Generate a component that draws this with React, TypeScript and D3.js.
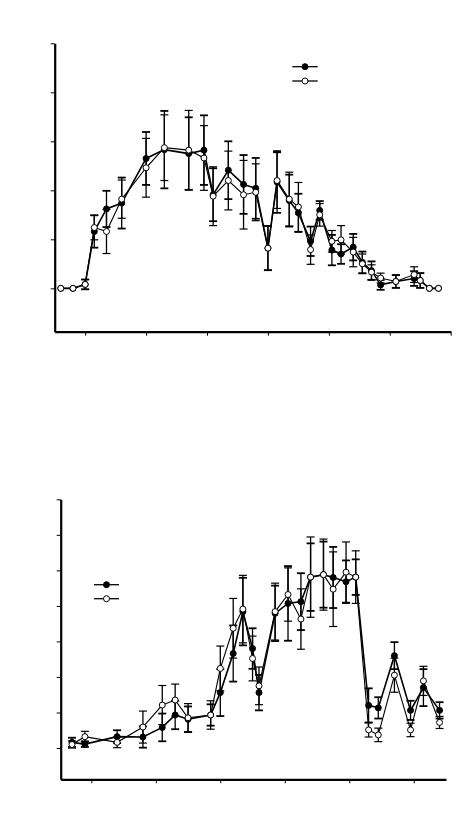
import React, { useEffect, useRef } from "react";
import * as d3 from "d3";

// ---------- Top panel data ----------
const topX = [6, 8, 10, 11.5, 13.5, 16, 20, 23, 27, 29.5, 31, 33.5, 36, 38, 40, 41.5, 43.5, 45, 47, 48.5, 50.5, 52, 54, 55.5, 57, 58.5, 61, 64, 65, 66.5, 68];
const topFilled = [0, 0, 0.08, 1.16, 1.62, 1.74, 2.65, 2.83, 2.75, 2.82, 1.91, 2.41, 2.12, 2.04, 0.82, 2.17, 1.79, 1.54, 0.96, 1.59, 0.78, 0.7, 0.84, 0.53, 0.36, 0.07, 0.14, 0.2, 0.16, 0, 0];
const topFilledErr = [0, 0, 0.1, 0.33, 0.37, 0.52, 0.54, 0.79, 0.74, 0.71, 0.54, 0.59, 0.6, 0.62, 0.45, 0.63, 0.53, 0.39, 0.3, 0.19, 0.31, 0.2, 0.27, 0.22, 0.19, 0.1, 0.13, 0.15, 0.15, 0, 0];
const topOpen = [0, 0, 0.08, 1.24, 1.16, 1.82, 2.46, 2.87, 2.82, 2.66, 1.88, 2.2, 1.91, 1.96, 0.82, 2.2, 1.82, 1.66, 0.79, 1.5, 0.96, 0.99, 0.74, 0.5, 0.33, 0.21, 0.14, 0.28, 0.16, 0, 0];
const topOpenErr = [0, 0, 0.1, 0.25, 0.45, 0.39, 0.6, 0.67, 0.81, 0.66, 0.6, 0.6, 0.7, 0.58, 0.45, 0.57, 0.55, 0.5, 0.3, 0.23, 0.22, 0.29, 0.3, 0.2, 0.15, 0.1, 0.13, 0.16, 0.15, 0, 0];
const topXTicks = [10, 20, 30, 40, 50, 60, 70];
const topYTicks = [0, 1, 2, 3, 4, 5];

// ---------- Bottom panel data ----------
const botX = [7, 9, 14, 18, 21, 23, 25, 28.5, 30, 32, 33.5, 35, 36, 38.5, 40.5, 42.5, 44, 46, 47.5, 49.5, 51, 53, 54.5, 57, 59.5, 61.5, 64];
const botFilled = [0.16, 0.11, 0.32, 0.31, 0.58, 0.93, 0.81, 0.93, 1.56, 2.66, 3.84, 2.8, 1.56, 3.79, 4.07, 4.12, 4.81, 4.88, 4.8, 4.68, 4.81, 1.2, 1.13, 2.6, 1.06, 1.7, 1.06];
const botFilledErr = [0.13, 0.08, 0.18, 0.3, 0.39, 0.4, 0.36, 0.3, 0.66, 0.79, 0.95, 0.57, 0.5, 0.78, 1.05, 0.8, 0.95, 0.93, 0.86, 0.6, 0.5, 0.48, 0.3, 0.38, 0.27, 0.52, 0.23];
const botOpen = [0.1, 0.32, 0.16, 0.59, 1.21, 1.35, 0.85, 0.93, 2.24, 3.37, 3.91, 2.52, 1.75, 3.84, 4.32, 3.63, 4.81, 4.88, 4.47, 4.95, 4.81, 0.51, 0.37, 2.05, 0.51, 1.89, 0.72];
const botOpenErr = [0.1, 0.15, 0.15, 0.45, 0.55, 0.45, 0.4, 0.4, 0.63, 0.84, 0.95, 0.63, 0.53, 0.8, 0.75, 0.85, 1.13, 1.0, 1.05, 0.85, 0.74, 0.2, 0.19, 0.48, 0.19, 0.41, 0.17];
const botXTicks = [10, 20, 30, 40, 50, 60];
const botYTicks = [0, 1, 2, 3, 4, 5, 6, 7];

type PanelProps = {
  xs: number[];
  filled: number[];
  filledErr: number[];
  open: number[];
  openErr: number[];
  xDomain: [number, number];
  yDomain: [number, number];
  left: number;
  right: number;
  top: number;
  bottom: number;
  xTicks: number[];
  yTicks: number[];
  legend: { x1: number; x2: number; y1: number; y2: number };
};

function Panel(p: PanelProps) {
  const xAxisRef = useRef<SVGGElement>(null);
  const yAxisRef = useRef<SVGGElement>(null);
  const x = d3.scaleLinear().domain(p.xDomain).range([p.left, p.right]);
  const y = d3.scaleLinear().domain(p.yDomain).range([p.bottom, p.top]);

  useEffect(() => {
    if (xAxisRef.current) {
      const g = d3.select(xAxisRef.current);
      g.call(d3.axisBottom(x).tickValues(p.xTicks).tickSize(4).tickSizeOuter(0).tickFormat(() => ""));
      g.select(".domain").attr("stroke-width", 2.2).attr("stroke", "#000");
      g.selectAll(".tick line").attr("stroke-width", 1).attr("stroke", "#000");
    }
    if (yAxisRef.current) {
      const g = d3.select(yAxisRef.current);
      g.call(d3.axisLeft(y).tickValues(p.yTicks).tickSize(4).tickSizeOuter(0).tickFormat(() => ""));
      g.select(".domain").attr("stroke-width", 2.2).attr("stroke", "#000");
      g.selectAll(".tick line").attr("stroke-width", 1).attr("stroke", "#000");
    }
  });

  const line = d3
    .line<[number, number]>()
    .x((d) => x(d[0]))
    .y((d) => y(d[1]));
  const filledPts: [number, number][] = p.xs.map((v, i) => [v, p.filled[i]]);
  const openPts: [number, number][] = p.xs.map((v, i) => [v, p.open[i]]);
  const cap = 4;
  const r = 3;

  const errBars = (vals: number[], errs: number[], capW: number, key: string) =>
    p.xs.map((v, i) => {
      if (!errs[i]) return null;
      const cx = x(v);
      const y1 = y(vals[i] + errs[i]);
      const y2 = y(vals[i] - errs[i]);
      return (
        <g key={key + i}>
          <line x1={cx} x2={cx} y1={y1} y2={y2} stroke="#000" strokeWidth={1.3} />
          <line x1={cx - cap} x2={cx + cap} y1={y1} y2={y1} stroke="#000" strokeWidth={capW} />
          <line x1={cx - cap} x2={cx + cap} y1={y2} y2={y2} stroke="#000" strokeWidth={capW} />
        </g>
      );
    });

  const lg = p.legend;
  return (
    <g>
      {errBars(p.filled, p.filledErr, 1.8, "fe")}
      {errBars(p.open, p.openErr, 1.2, "oe")}
      <path d={line(filledPts) || ""} fill="none" stroke="#000" strokeWidth={1.6} />
      <path d={line(openPts) || ""} fill="none" stroke="#000" strokeWidth={1.1} />
      {filledPts.map((d, i) => (
        <circle key={"fc" + i} cx={x(d[0])} cy={y(d[1])} r={r} fill="#000" stroke="#000" strokeWidth={1} />
      ))}
      {openPts.map((d, i) => (
        <circle key={"oc" + i} cx={x(d[0])} cy={y(d[1])} r={r} fill="#fff" stroke="#000" strokeWidth={1} />
      ))}
      <g ref={xAxisRef} transform={`translate(0,${p.bottom})`} />
      <g ref={yAxisRef} transform={`translate(${p.left},0)`} />
      {/* legend */}
      <line x1={lg.x1} x2={lg.x2} y1={lg.y1} y2={lg.y1} stroke="#000" strokeWidth={1.3} />
      <circle cx={(lg.x1 + lg.x2) / 2} cy={lg.y1} r={r} fill="#000" stroke="#000" />
      <line x1={lg.x1} x2={lg.x2} y1={lg.y2} y2={lg.y2} stroke="#000" strokeWidth={1.3} />
      <circle cx={(lg.x1 + lg.x2) / 2} cy={lg.y2} r={r} fill="#fff" stroke="#000" />
    </g>
  );
}

export default function App() {
  return (
    <svg
      width={474}
      height={830}
      style={{ position: "absolute", left: 0, top: 0, background: "#fff" }}
    >
      <rect x={0} y={0} width={474} height={830} fill="#fff" />
      <Panel
        xs={topX}
        filled={topFilled}
        filledErr={topFilledErr}
        open={topOpen}
        openErr={topOpenErr}
        xDomain={[5, 70]}
        yDomain={[-0.885, 5]}
        left={54.7}
        right={450.7}
        top={43.3}
        bottom={331.7}
        xTicks={topXTicks}
        yTicks={topYTicks}
        legend={{ x1: 292.3, x2: 317.7, y1: 66.7, y2: 81 }}
      />
      <Panel
        xs={botX}
        filled={botFilled}
        filledErr={botFilledErr}
        open={botOpen}
        openErr={botOpenErr}
        xDomain={[5.25, 65]}
        yDomain={[-0.88, 7]}
        left={60.7}
        right={446}
        top={499.3}
        bottom={779.3}
        xTicks={botXTicks}
        yTicks={botYTicks}
        legend={{ x1: 94, x2: 119, y1: 584.7, y2: 598.7 }}
      />
    </svg>
  );
}
